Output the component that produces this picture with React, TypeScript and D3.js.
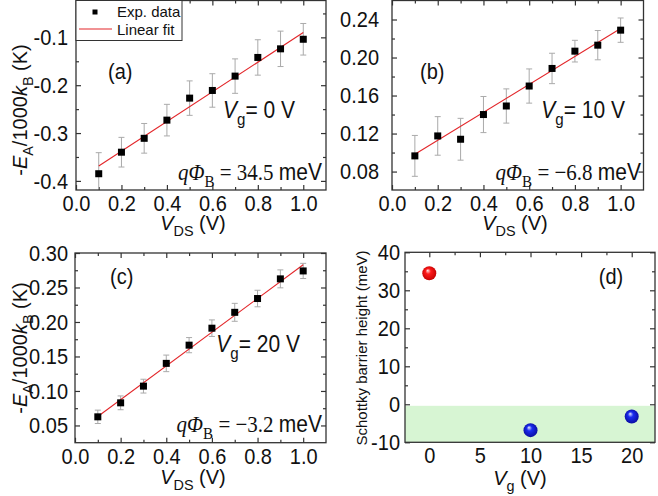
import { useEffect, useRef } from "react";
import * as d3 from "d3";

const SANS = "'Liberation Sans', Arial, sans-serif";
const SERIF = "'Liberation Serif', 'Times New Roman', serif";
const SY = 1.12; // the original lettering is a little taller than wide

// drain-source bias (V)
const vds = [0.1, 0.2, 0.3, 0.4, 0.5, 0.6, 0.7, 0.8, 0.9, 1.0];
const fitX = [0.1, 1.0];

// (a) Vg = 0 V
const eaVg0 = [-0.385, -0.34, -0.311, -0.273, -0.227, -0.211, -0.181, -0.142, -0.124, -0.104];
const errVg0 = [0.044, 0.031, 0.031, 0.033, 0.036, 0.035, 0.036, 0.037, 0.037, 0.033];
const fitVg0 = [-0.369, -0.09];

// (b) Vg = 10 V
const eaVg10 = [0.0965, 0.1175, 0.114, 0.14, 0.149, 0.17, 0.1885, 0.2067, 0.213, 0.2288];
const errVg10 = [0.0215, 0.0203, 0.022, 0.019, 0.018, 0.018, 0.016, 0.0114, 0.0154, 0.0128];
const fitVg10 = [0.0983, 0.2305];

// (c) Vg = 20 V
const eaVg20 = [0.0625, 0.0828, 0.107, 0.14, 0.1664, 0.191, 0.214, 0.234, 0.2625, 0.274];
const errVg20 = [0.0097, 0.01, 0.01, 0.012, 0.011, 0.012, 0.013, 0.012, 0.013, 0.011];
const fitVg20 = [0.063, 0.283];

// (d) barrier height vs gate voltage
const gateVoltages = [0, 10, 20];
const barrierHeights = [34.5, -6.8, -3.2];

const vdsMajor = [0, 0.2, 0.4, 0.6, 0.8, 1.0];
const vdsMinor = [0.1, 0.3, 0.5, 0.7, 0.9];
const aMajor = [-0.4, -0.3, -0.2, -0.1];
const aMinor = [-0.35, -0.25, -0.15, -0.05];
const bMajor = [0.08, 0.12, 0.16, 0.2, 0.24];
const bMinor = [0.1, 0.14, 0.18, 0.22];
const cMajor = [0.05, 0.1, 0.15, 0.2, 0.25, 0.3];
const cMinor = [0.075, 0.125, 0.175, 0.225, 0.275];
const vgMajor = [0, 5, 10, 15, 20];
const vgMinor = [2.5, 7.5, 12.5, 17.5];
const sbhMajor = [-10, 0, 10, 20, 30, 40];
const sbhMinor = [-5, 5, 15, 25, 35];

type Part = { t: string; it?: boolean; sub?: boolean; serif?: boolean };

function rich(
  sel: any,
  x: number,
  y: number,
  parts: Part[],
  size: number,
  anchor = "start",
  rotate = 0,
  sy = SY,
) {
  const text = sel
    .append("text")
    .attr("x", x)
    .attr("y", y)
    .attr("font-size", size)
    .attr("font-family", SANS)
    .attr("text-anchor", anchor)
    .attr("fill", "#111");
  const rot = rotate ? `rotate(${rotate},${x},${y}) ` : "";
  text.attr("transform", `${rot}translate(${x},${y}) scale(1,${sy}) translate(${-x},${-y})`);
  let shift = 0;
  parts.forEach((p) => {
    const target = p.sub ? size * 0.3 : 0;
    const ts = text.append("tspan").attr("dy", target - shift).text(p.t);
    shift = target;
    if (p.it) ts.attr("font-style", "italic");
    if (p.sub) ts.attr("font-size", size * 0.72);
    if (p.serif) ts.attr("font-family", SERIF);
  });
  return text;
}

interface PanelCfg {
  id: string;
  xRange: [number, number];
  yRange: [number, number];
  xDomain: [number, number];
  yDomain: [number, number];
  xMajor: number[];
  xMinor: number[];
  yMajor: number[];
  yMinor: number[];
  xFmt: (d: number) => string;
  yFmt: (d: number) => string;
  yPad: number;
}

function frame(svg: any, c: PanelCfg) {
  const x = d3.scaleLinear().domain(c.xDomain).range(c.xRange);
  const y = d3.scaleLinear().domain(c.yDomain).range(c.yRange);
  const [x0, x1] = c.xRange;
  const [y1, y0] = c.yRange;
  const g = svg.append("g");

  svg
    .append("clipPath")
    .attr("id", `clip-${c.id}`)
    .append("rect")
    .attr("x", x0)
    .attr("y", y0)
    .attr("width", x1 - x0)
    .attr("height", y1 - y0);

  const style = (a: any) => {
    a.select(".domain").remove();
    a.selectAll("line").attr("stroke", "#333").attr("stroke-width", 1.2);
    a.selectAll("text")
      .attr("font-family", SANS)
      .attr("font-size", 20)
      .attr("fill", "#111")
      .attr("transform", `scale(1,${SY})`);
  };

  g.append("g")
    .attr("transform", `translate(0,${y1})`)
    .call(d3.axisBottom(x).tickValues(c.xMajor).tickSize(-5).tickPadding(4.5).tickFormat(c.xFmt as any))
    .call(style);
  g.append("g")
    .attr("transform", `translate(0,${y1})`)
    .call(d3.axisBottom(x).tickValues(c.xMinor).tickSize(-3).tickFormat(() => ""))
    .call(style);
  g.append("g")
    .attr("transform", `translate(0,${y0})`)
    .call(d3.axisTop(x).tickValues(c.xMajor).tickSize(-5).tickFormat(() => ""))
    .call(style);
  g.append("g")
    .attr("transform", `translate(0,${y0})`)
    .call(d3.axisTop(x).tickValues(c.xMinor).tickSize(-3).tickFormat(() => ""))
    .call(style);
  g.append("g")
    .attr("transform", `translate(${x0},0)`)
    .call(d3.axisLeft(y).tickValues(c.yMajor).tickSize(-5).tickPadding(c.yPad).tickFormat(c.yFmt as any))
    .call(style);
  g.append("g")
    .attr("transform", `translate(${x0},0)`)
    .call(d3.axisLeft(y).tickValues(c.yMinor).tickSize(-3).tickFormat(() => ""))
    .call(style);
  g.append("g")
    .attr("transform", `translate(${x1},0)`)
    .call(d3.axisRight(y).tickValues(c.yMajor).tickSize(-5).tickFormat(() => ""))
    .call(style);
  g.append("g")
    .attr("transform", `translate(${x1},0)`)
    .call(d3.axisRight(y).tickValues(c.yMinor).tickSize(-3).tickFormat(() => ""))
    .call(style);

  const plot = svg.append("g").attr("clip-path", `url(#clip-${c.id})`);
  const border = () =>
    svg
      .append("rect")
      .attr("x", x0)
      .attr("y", y0)
      .attr("width", x1 - x0)
      .attr("height", y1 - y0)
      .attr("fill", "none")
      .attr("stroke", "#333")
      .attr("stroke-width", 1.3);
  return { x, y, plot, border };
}

function errorPanel(svg: any, c: PanelCfg, vals: number[], errs: number[], fit: number[]) {
  const { x, y, plot, border } = frame(svg, c);
  vds.forEach((v, i) => {
    const cx = x(v);
    const top = y(vals[i] + errs[i]);
    const bot = y(vals[i] - errs[i]);
    plot.append("line").attr("x1", cx).attr("x2", cx).attr("y1", top).attr("y2", bot)
      .attr("stroke", "#aaa").attr("stroke-width", 1);
    [top, bot].forEach((yy) =>
      plot.append("line").attr("x1", cx - 3).attr("x2", cx + 3).attr("y1", yy).attr("y2", yy)
        .attr("stroke", "#aaa").attr("stroke-width", 1),
    );
  });
  plot
    .append("path")
    .datum(fitX.map((v, i) => [v, fit[i]]))
    .attr("d", d3.line().x((d: any) => x(d[0])).y((d: any) => y(d[1])) as any)
    .attr("stroke", "#e3262a")
    .attr("stroke-width", 1.1)
    .attr("fill", "none");
  plot
    .selectAll(".sq")
    .data(vds)
    .enter()
    .append("rect")
    .attr("x", (d: number) => x(d) - 3.5)
    .attr("y", (_d: number, i: number) => y(vals[i]) - 3.5)
    .attr("width", 7)
    .attr("height", 7)
    .attr("fill", "#000");
  border();
  return { x, y };
}

const fmt1 = (d: number) => d.toFixed(1);

export default function App() {
  const ref = useRef<SVGSVGElement>(null);

  useEffect(() => {
    if (!ref.current) return;
    const svg = d3.select(ref.current);
    svg.selectAll("*").remove();

    const defs = svg.append("defs");
    const grad = (id: string, hi: string, mid: string, edge: string) => {
      const rg = defs.append("radialGradient").attr("id", id)
        .attr("cx", "50%").attr("cy", "50%").attr("r", "55%")
        .attr("fx", "38%").attr("fy", "30%");
      rg.append("stop").attr("offset", "0%").attr("stop-color", hi);
      rg.append("stop").attr("offset", "35%").attr("stop-color", mid);
      rg.append("stop").attr("offset", "100%").attr("stop-color", edge);
    };
    grad("redBall", "#ffe8e8", "#ff1a1a", "#c00000");
    grad("blueBall", "#e8ecff", "#1a2cf0", "#0a0a9a");

    const qPhi = (val: string): Part[] => [
      { t: "q", it: true, serif: true }, { t: "Φ", it: true, serif: true }, { t: "B", sub: true, serif: true },
      { t: ` = ${val} `, serif: true }, { t: "meV" },
    ];
    const vdsLabel: Part[] = [{ t: "V", it: true }, { t: "DS", sub: true }, { t: " (V)" }];
    const eaLabel: Part[] = [
      { t: "-" }, { t: "E", it: true }, { t: "A", sub: true }, { t: "/1000" }, { t: "k", it: true },
      { t: "B", sub: true }, { t: " (K)" },
    ];

    // (a)
    const a: PanelCfg = {
      id: "a", xRange: [76, 326], yRange: [190, 0.5], xDomain: [0, 1.1], yDomain: [-0.419, -0.023],
      xMajor: vdsMajor, xMinor: vdsMinor, yMajor: aMajor, yMinor: aMinor,
      xFmt: fmt1, yFmt: fmt1, yPad: 8,
    };
    errorPanel(svg, a, eaVg0, errVg0, fitVg0);

    // legend
    const lg = svg.append("g");
    lg.append("rect").attr("x", 76).attr("y", 0.5).attr("width", 106).attr("height", 40)
      .attr("fill", "#fff").attr("stroke", "#333").attr("stroke-width", 1);
    lg.append("rect").attr("x", 92.5).attr("y", 9.5).attr("width", 5).attr("height", 5).attr("fill", "#000");
    lg.append("line").attr("x1", 79).attr("x2", 112).attr("y1", 29).attr("y2", 29)
      .attr("stroke", "#e3262a").attr("stroke-width", 1.1);
    rich(lg, 117, 17, [{ t: "Exp. data" }], 15, "start", 0, 1);
    rich(lg, 117, 35, [{ t: "Linear fit" }], 15, "start", 0, 1);

    rich(svg, 108, 79, [{ t: "(a)" }], 20);
    rich(svg, 295, 118, [{ t: "V", it: true }, { t: "g", sub: true }, { t: "= 0 V" }], 21, "end");
    rich(svg, 322, 180, qPhi("34.5"), 21, "end");
    rich(svg, 193, 230, vdsLabel, 20, "middle", 0, 1);
    rich(svg, 27, 110, eaLabel, 20, "middle", -90, 1);

    // (b)
    const b: PanelCfg = {
      id: "b", xRange: [392, 643.5], yRange: [190, 0.5], xDomain: [0, 1.1], yDomain: [0.0606, 0.26],
      xMajor: vdsMajor, xMinor: vdsMinor, yMajor: bMajor, yMinor: bMinor,
      xFmt: fmt1, yFmt: (d) => d.toFixed(2), yPad: 13,
    };
    errorPanel(svg, b, eaVg10, errVg10, fitVg10);
    rich(svg, 420, 79, [{ t: "(b)" }], 20);
    rich(svg, 625, 118, [{ t: "V", it: true }, { t: "g", sub: true }, { t: "= 10 V" }], 21, "end");
    rich(svg, 641, 180, qPhi("−6.8"), 21, "end");
    rich(svg, 515, 230, vdsLabel, 20, "middle", 0, 1);

    // (c)
    const c: PanelCfg = {
      id: "c", xRange: [75, 326], yRange: [442.7, 253], xDomain: [0, 1.1], yDomain: [0.025, 0.3],
      xMajor: vdsMajor, xMinor: vdsMinor, yMajor: cMajor, yMinor: cMinor,
      xFmt: fmt1, yFmt: (d) => d.toFixed(2), yPad: 7,
    };
    errorPanel(svg, c, eaVg20, errVg20, fitVg20);
    rich(svg, 110, 284, [{ t: "(c)" }], 20);
    rich(svg, 300, 352, [{ t: "V", it: true }, { t: "g", sub: true }, { t: "= 20 V" }], 21, "end");
    rich(svg, 322, 432, qPhi("−3.2"), 21, "end");
    rich(svg, 193, 484, vdsLabel, 20, "middle", 0, 1);
    rich(svg, 27, 348, eaLabel, 20, "middle", -90, 1);

    // (d)
    const d: PanelCfg = {
      id: "d", xRange: [405, 655], yRange: [442.3, 252.3], xDomain: [-2.4, 22.3], yDomain: [-10, 40],
      xMajor: vgMajor, xMinor: vgMinor, yMajor: sbhMajor, yMinor: sbhMinor,
      xFmt: (v) => v.toFixed(0), yFmt: (v) => v.toFixed(0), yPad: 5,
    };
    const pd = frame(svg, d);
    pd.plot.append("rect")
      .attr("x", pd.x(-2.4)).attr("y", pd.y(-0.4))
      .attr("width", pd.x(22.3) - pd.x(-2.4)).attr("height", pd.y(-10) - pd.y(-0.4))
      .attr("fill", "#d7f5d3");
    pd.plot.selectAll(".ball")
      .data(gateVoltages)
      .enter()
      .append("circle")
      .attr("cx", (v: number) => pd.x(v))
      .attr("cy", (_v: number, i: number) => pd.y(barrierHeights[i]))
      .attr("r", 7)
      .attr("fill", (_v: number, i: number) => (barrierHeights[i] > 0 ? "url(#redBall)" : "url(#blueBall)"));
    pd.border();
    rich(svg, 611, 284, [{ t: "(d)" }], 20, "middle");
    rich(svg, 520, 485, [{ t: "V", it: true }, { t: "g", sub: true }, { t: " (V)" }], 20, "middle", 0, 1);
    rich(svg, 367, 348, [{ t: "Schottky barrier height (meV)" }], 15, "middle", -90, 1);
  }, []);

  return (
    <svg
      ref={ref}
      width={658}
      height={496}
      viewBox="0 0 658 496"
      style={{ position: "absolute", left: 0, top: 0, background: "#fff" }}
    />
  );
}
